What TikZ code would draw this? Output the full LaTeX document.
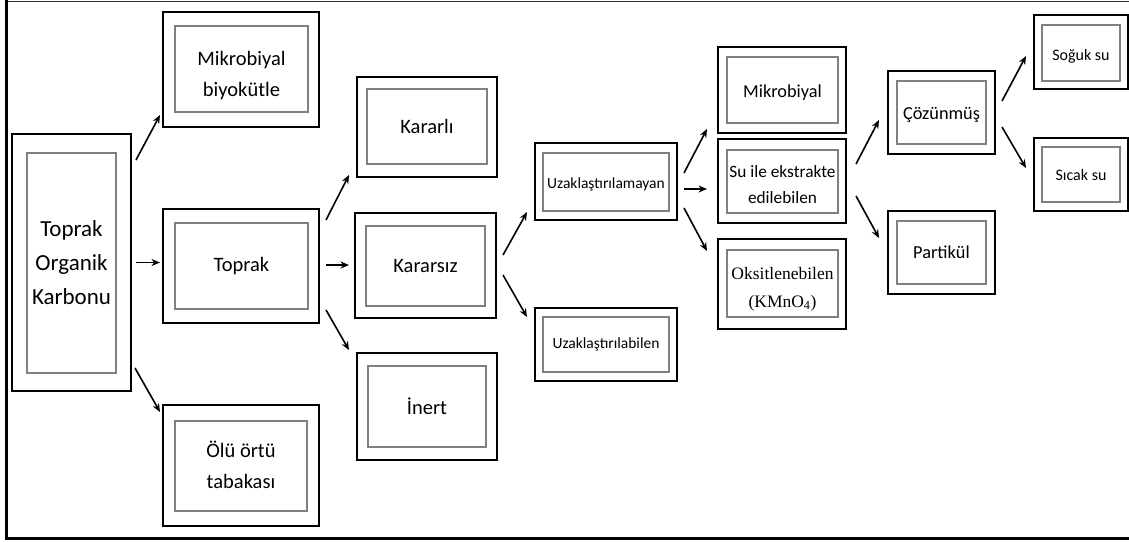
\documentclass[tikz,border=0pt]{standalone}
\usepackage{fontspec}
\setmainfont{Carlito}
\newfontfamily\serifont{Liberation Serif}
\usetikzlibrary{arrows.meta,calc}
\newcommand{\lowtxt}[2]{\raisebox{-#1pt}[\height][\depth]{\begin{tabular}{@{}c@{}}#2\end{tabular}}}
\tikzset{
 obox/.style={draw=black, line width=1.1pt, inner sep=0pt, outer sep=0pt},
 ibox/.style={draw=black!50, line width=1.5pt, inner sep=0pt, outer sep=0pt, align=center, text=black},
 arr/.style={line width=1.6pt, -{Stealth[length=8.5pt,width=7pt]}},
 fbig/.style={font=\fontsize{23}{34}\selectfont},
 fmid/.style={font=\fontsize{20.5}{31}\selectfont},
 fsm/.style={font=\fontsize{18.3}{26}\selectfont},
 fuz/.style={font=\fontsize{15.5}{20}\selectfont},
 fss/.style={font=\fontsize{16}{20}\selectfont},
}
\begin{document}
\begin{tikzpicture}[x=1pt,y=-1pt]
\useasboundingbox (0,0) rectangle (1129,541);
% frame
\draw[line width=1pt, black!80] (5,1) -- (1129,1);
\draw[line width=3pt] (6.5,0) -- (6.5,540);
\draw[line width=3.5pt] (5,538.5) -- (1129,538.5);

% column 1
\node[obox,minimum width=119pt,minimum height=257pt] (tok) at (71.5,262.5) {};
\node[ibox,fbig,minimum width=89pt,minimum height=220pt] (tokin) at (71.5,263) {Toprak\\Organik\\Karbonu};

% column 2
\node[obox,minimum width=156pt,minimum height=115pt] (mb) at (241,69.5) {};
\node[ibox,fmid,minimum width=133pt,minimum height=86pt] (mbin) at (241.5,69) {\lowtxt{6}{Mikrobiyal\\biyokütle}};
\node[obox,minimum width=156pt,minimum height=114pt] (toprak) at (241,266) {};
\node[ibox,fmid,minimum width=133pt,minimum height=86pt] (toprakin) at (241.5,266) {Toprak};
\node[obox,minimum width=156pt,minimum height=121pt] (olu) at (241,465.5) {};
\node[ibox,fmid,minimum width=132pt,minimum height=90pt] (oluin) at (241,466) {\lowtxt{1}{Ölü örtü\\tabakası}};

% column 3
\node[obox,minimum width=140pt,minimum height=100pt] (kararli) at (427,127) {};
\node[ibox,fmid,minimum width=120pt,minimum height=75pt] (kararliin) at (427,126.5) {Kararlı};
\node[obox,minimum width=141pt,minimum height=105pt] (kararsiz) at (425.5,265.5) {};
\node[ibox,fmid,minimum width=119pt,minimum height=80pt] (kararsizin) at (425.5,266) {Kararsız};
\node[obox,minimum width=140pt,minimum height=107pt] (inert) at (427,406.5) {};
\node[ibox,fmid,minimum width=118pt,minimum height=81pt] (inertin) at (427,406.5) {İnert};

% column 4
\node[obox,minimum width=142pt,minimum height=77pt] (uza) at (606,181.5) {};
\node[ibox,fuz,minimum width=126pt,minimum height=58pt] (uzain) at (606,182) {\lowtxt{2}{Uzaklaştırılamayan}};
\node[obox,minimum width=142pt,minimum height=73pt] (uzb) at (606,344.5) {};
\node[ibox,fuz,minimum width=126pt,minimum height=55pt] (uzbin) at (606,344.5) {Uzaklaştırılabilen};

% column 5
\node[obox,minimum width=128pt,minimum height=86pt] (mik) at (782,90) {};
\node[ibox,fsm,minimum width=111pt,minimum height=66pt] (mikin) at (782.5,90) {\lowtxt{2}{Mikrobiyal}};
\node[obox,minimum width=128pt,minimum height=84pt] (su) at (782,181) {};
\node[ibox,font=\fontsize{17.3}{26}\selectfont,minimum width=111pt,minimum height=63pt] (suin) at (782.5,181.5) {\lowtxt{4}{Su ile ekstrakte\\edilebilen}};
\node[obox,minimum width=128pt,minimum height=90pt] (oks) at (782,284) {};
\node[ibox,font=\serifont\fontsize{17.5}{28}\selectfont,minimum width=111pt,minimum height=67pt] (oksin) at (782.5,283.5) {\lowtxt{4}{Oksitlenebilen\\(KMnO\textsubscript{4})}};

% column 6
\node[obox,minimum width=107pt,minimum height=83pt] (coz) at (941.5,112.5) {};
\node[ibox,fsm,minimum width=89pt,minimum height=63pt] (cozin) at (941.5,112.5) {\lowtxt{2}{Çözünmüş}};
\node[obox,minimum width=107pt,minimum height=83pt] (part) at (941.5,252.5) {};
\node[ibox,fsm,minimum width=89pt,minimum height=63pt] (partin) at (941.5,252.5) {Partikül};

% column 7
\node[obox,minimum width=94pt,minimum height=74pt] (soguk) at (1081,52) {};
\node[ibox,fss,minimum width=78pt,minimum height=56pt] (sogukin) at (1081,53) {\lowtxt{3}{Soğuk su}};
\node[obox,minimum width=94pt,minimum height=73pt] (sicak) at (1081,174.5) {};
\node[ibox,fss,minimum width=78pt,minimum height=55pt] (sicakin) at (1081,174.5) {\lowtxt{2}{Sıcak su}};

% arrows
\draw[arr] ($(tok.north east)+(5,26)$) -- ($(mb.south west)+(-3,-12)$);
\draw[arr] ($(tok.east)+(5,0)$) -- ($(tok.east -| toprak.west)+(-3,0)$);
\draw[arr] ($(tok.south east)+(4,-23)$) -- ($(olu.north west)+(-3,7)$);

\draw[arr] ($(toprak.north east)+(7,11)$) -- ($(kararli.south west)+(-8,-2)$);
\draw[arr] ($(toprak.east)+(7,-1)$) -- ($(toprak.east -| kararsiz.west)+(-6,-1)$);
\draw[arr] ($(toprak.south east)+(7,-13)$) -- ($(inert.north west)+(-8,-3)$);

\draw[arr] ($(kararsiz.east)+(7,-10.5)$) -- ($(uza.south west)+(-8,-8)$);
\draw[arr] ($(kararsiz.east)+(7,9.5)$) -- ($(uzb.north west)+(-8,9)$);

\draw[arr] ($(uza.east)+(7,-8.5)$) -- ($(mik.south west)+(-11,-4)$);
\draw[arr] ($(uza.east)+(7,7.5)$) -- ($(uza.east -| su.west)+(-11,7.5)$);
\draw[arr] ($(uza.south east)+(7,-12)$) -- ($(oks.north west)+(-11,12)$);

\draw[arr] ($(su.east)+(10,-17)$) -- ($(coz.south west)+(-9,-34)$);
\draw[arr] ($(su.east)+(10,15)$) -- ($(part.north west)+(-9,27)$);

\draw[arr] ($(coz.east)+(7,-11.5)$) -- ($(soguk.west)+(-8,4)$);
\draw[arr] ($(coz.east)+(7,14.5)$) -- ($(sicak.west)+(-8,-6.5)$);
\end{tikzpicture}
\end{document}
